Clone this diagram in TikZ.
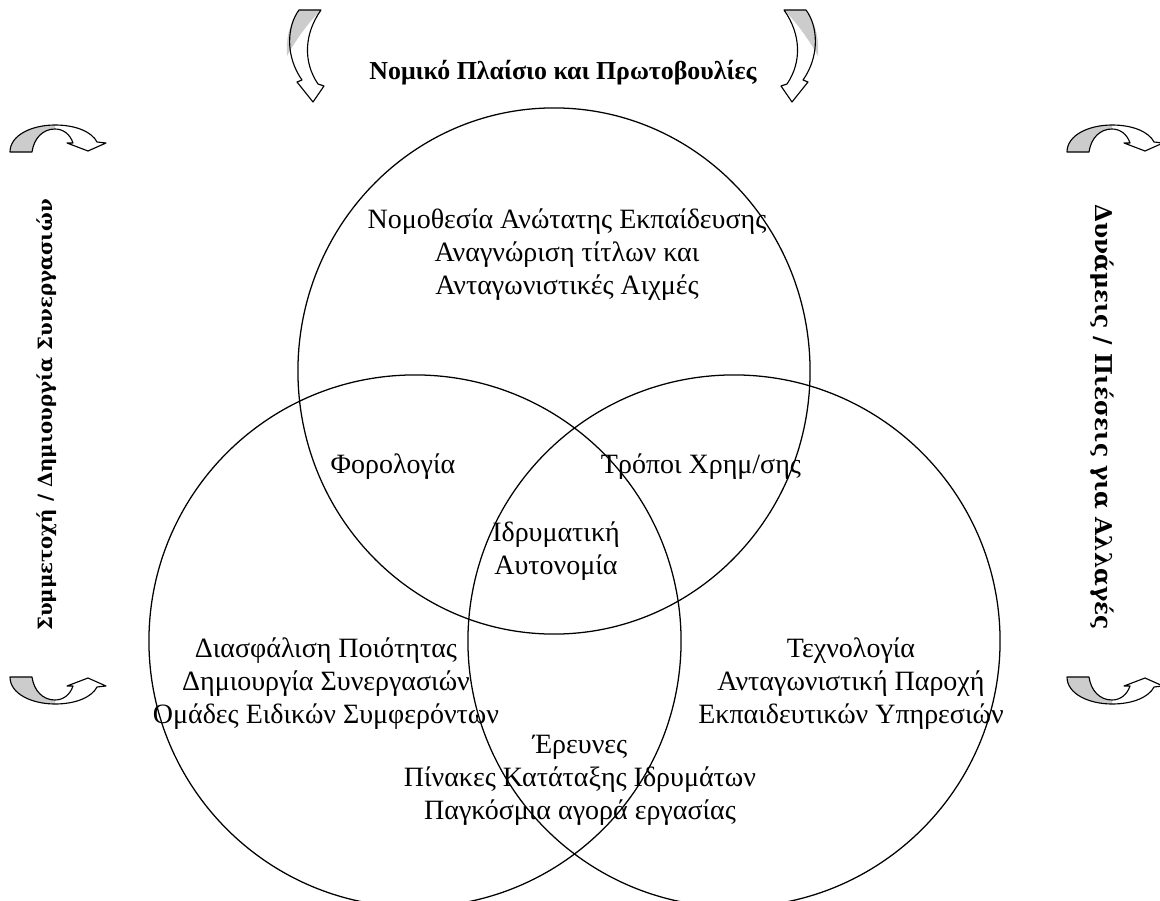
\documentclass[tikz,border=0pt]{standalone}
\usepackage{fontspec}
\setmainfont{Liberation Serif}
\newfontfamily\sidefont{DejaVu Serif}
\usetikzlibrary{positioning,shapes.geometric}
\definecolor{bandgray}{RGB}{204,204,204}

\tikzset{
  venn/.style={draw, line width=0.9pt, inner sep=0pt},
  vtext/.style={font=\fontsize{19.9}{23.5}\selectfont, align=center, inner sep=0pt},
  titletext/.style={font=\fontsize{18.4}{20}\selectfont\bfseries, inner sep=0pt},
  sidetext/.style={font=\sidefont\fontsize{14}{16}\selectfont\bfseries, inner sep=0pt},
  outline/.style={draw, line width=0.8pt, line join=round},
  % half-turn arrow, base at the origin
  archarrow/.pic={
    \fill[bandgray] (0,0) .. controls (0,-17) and (22,-27) .. (45,-27) -- (45,-23)
      .. controls (33,-23) and (24,-14) .. (22,0) -- cycle;
    \path[outline] (0,0) .. controls (0,-17) and (22,-27) .. (45,-27)
      .. controls (66,-27) and (82,-20) .. (87,-10) -- (96,-9) -- (78,-1) -- (57,-9) -- (63,-9)
      .. controls (60,-18) and (53,-23) .. (45,-23) .. controls (33,-23) and (24,-14) .. (22,0) -- cycle;
  },
  % shallow bent arrow, base at the origin
  bowarrow/.pic={
    \fill[bandgray] (0,0) .. controls (-11,16) and (-13,30) .. (-12,46)
      .. controls (-2,28) and (10,12) .. (22,0) -- cycle;
    \path[outline] (0,0) .. controls (-12,16) and (-14,46) .. (3,70) -- (-2,72) -- (14,92)
      -- (25,76) -- (19,74) .. controls (4,52) and (5,24) .. (22,0) -- cycle;
  }
}

\begin{document}
\begin{tikzpicture}[x=0.025cm, y=-0.025cm]
  \useasboundingbox (0,0) rectangle (1160,901);

  % the three circles
  \node[venn, ellipse, minimum width=12.8cm, minimum height=13.15cm] (law) at (554,371) {};
  \node[venn, circle, minimum size=13.3cm] (quality) at (415,641) {};
  \node[venn, circle, minimum size=13.3cm] (market) at (734,641) {};

  % arrows round the edge
  \foreach \x/\y/\s in {10/152/1, 10/677/-1, 1067/152/1, 1067/677/-1}
    \pic[yscale=\s] at (\x,\y) {archarrow};
  \pic at (299,10) {bowarrow};
  \pic[xscale=-1] at (806,10) {bowarrow};

  \node[titletext] (frame) at (563,73) {Νομικό Πλαίσιο και Πρωτοβουλίες};
  \node[sidetext, rotate=90] (join) at (47,415) {Συμμετοχή / Δημιουργία Συνεργασιών};
  \node[sidetext, font=\sidefont\fontsize{16.5}{18}\selectfont\bfseries, rotate=-90] (force) at (1102,417) {Δυνάμεις / Πιέσεις για Αλλαγές};

  \node[vtext] (lawtext) at (567,255) {Νομοθεσία Ανώτατης Εκπαίδευσης\\Αναγνώριση τίτλων και\\Ανταγωνιστικές Αιχμές};
  \node[vtext] (tax) at (393,467) {Φορολογία};
  \node[vtext] (fund) at (701,467) {Τρόποι Χρημ/σης};
  \node[vtext] (autonomy) at (556,551) {Ιδρυματική\\Αυτονομία};
  \node[vtext] (qualtext) at (326,684) {Διασφάλιση Ποιότητας\\Δημιουργία Συνεργασιών\\Ομάδες Ειδικών Συμφερόντων};
  \node[vtext] (tech) at (851,684) {Τεχνολογία\\Ανταγωνιστική Παροχή\\Εκπαιδευτικών Υπηρεσιών};
  \node[vtext] (research) at (580,780) {Έρευνες\\Πίνακες Κατάταξης Ιδρυμάτων\\Παγκόσμια αγορά εργασίας};
\end{tikzpicture}
\end{document}
